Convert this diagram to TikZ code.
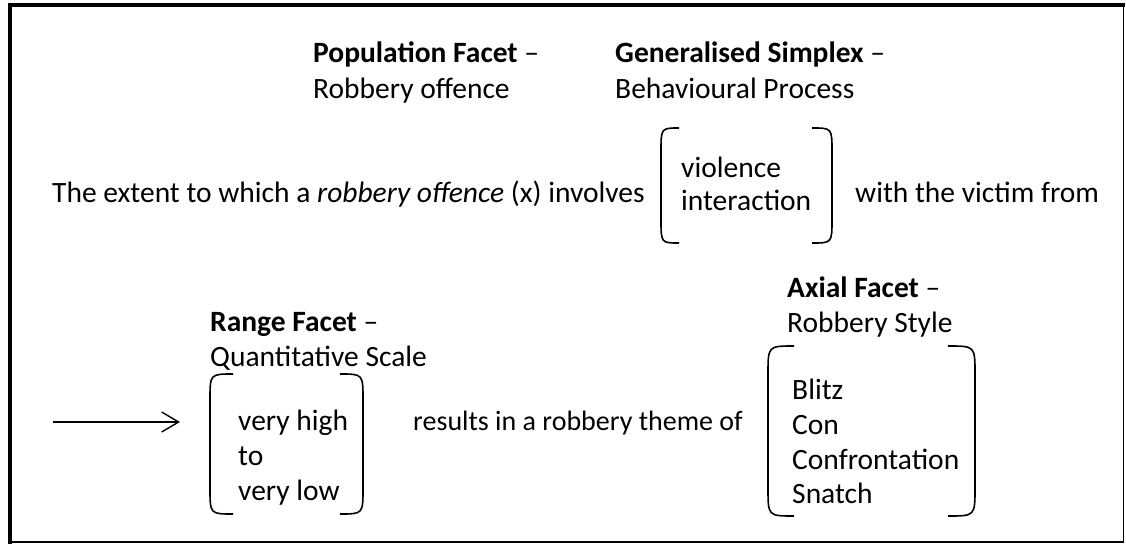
\documentclass[tikz,border=0pt]{standalone}
\usepackage{fontspec}
\setmainfont{Carlito}
\usetikzlibrary{arrows.meta}
\newcommand\drawlbrk[5]{% x, top, bottom, hook, vertical curve
  \draw[brk] (#1+#4,#2) .. controls (#1,#2) .. (#1,#2+#5) -- (#1,#3-#5) .. controls (#1,#3) .. (#1+#4,#3);}
\newcommand\drawrbrk[5]{%
  \draw[brk] (#1-#4,#2) .. controls (#1,#2) .. (#1,#2+#5) -- (#1,#3-#5) .. controls (#1,#3) .. (#1-#4,#3);}
\begin{document}
\begin{tikzpicture}[x=1pt,y=-1pt,
  txt/.style={anchor=base west,inner sep=0pt,font=\fontsize{29.5}{35.5}\selectfont},
  brk/.style={line width=1.6pt},
  conn/.style={line width=1.4pt,-{Straight Barb[length=17pt,width=20pt,line width=1.4pt]}}]
\useasboundingbox (0,0) rectangle (1126,548);
% frame
\draw[line width=1.6pt] (10,5) rectangle (1123.5,542);
\draw[line width=4.5pt] (10,544) -- (10,5) -- (1125,5);
% top labels
\node[txt] (pop1) at (313,63) {\textbf{Population Facet} –};
\node[txt] (pop2) at (313,99) {Robbery offence};
\node[txt] (gen1) at (615,63) {\textbf{Generalised Simplex} –};
\node[txt] (gen2) at (615,99) {Behavioural Process};
% main line
\node[txt] (main) at (52,203) {The extent to which a \textit{robbery offence} (x) involves};
\node[txt] (vio1) at (681,178) {violence};
\node[txt] (vio2) at (681,211) {interaction};
\node[txt] (with) at (855,203) {with the victim from};
\drawlbrk{661}{128}{243}{18}{24}
\drawrbrk{832}{128}{243}{20}{24}
% range facet
\node[txt] (rng1) at (210,331) {\textbf{Range Facet} –};
\node[txt] (rng2) at (210,366) {Quantitative Scale};
\node[txt] (vh) at (238,430) {very high};
\node[txt] (to) at (238,465) {to};
\node[txt] (vl) at (238,500) {very low};
\drawlbrk{210}{374}{514}{23}{26}
\drawrbrk{363}{374}{514}{23}{26}
\coordinate (astart) at (53,422);
\coordinate (aend) at (180,422);
\draw[conn] (astart) -- (aend);
\node[txt,font=\fontsize{28}{33.5}\selectfont] (res) at (413,430) {results in a robbery theme of};
% axial facet
\node[txt] (ax1) at (787,297) {\textbf{Axial Facet} –};
\node[txt] (ax2) at (787,332) {Robbery Style};
\node[txt] (bl) at (792,399) {Blitz};
\node[txt] (con) at (792,434) {Con};
\node[txt] (conf) at (792,469) {Confrontation};
\node[txt] (sn) at (792,503) {Snatch};
\drawlbrk{768}{346}{516}{26}{28}
\drawrbrk{975}{346}{516}{27}{28}
\end{tikzpicture}
\end{document}
